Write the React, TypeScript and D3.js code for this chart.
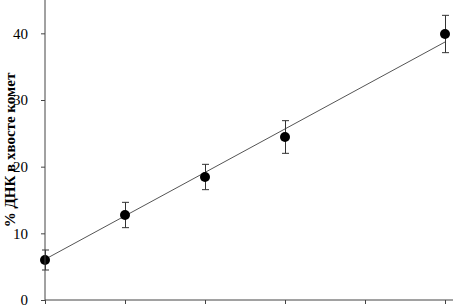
import { useEffect, useRef } from 'react'
import * as d3 from 'd3'

// doses (x) and measured values
const doses = [0, 1, 2, 3, 5]
const tailDna = [6.0, 12.75, 18.45, 24.45, 39.9]
const errors = [1.5, 1.9, 1.9, 2.45, 2.8]
// fitted line end points
const fitX = [0, 5]
const fitY = [6.1, 38.7]
const yTicks = [0, 10, 20, 30, 40]
const xTicks = [0, 1, 2, 3, 4, 5]
const yLabel = '% ДНК в хвосте комет'

const W = 453
const H = 306

const CometChart = () => {
  const ref = useRef<SVGSVGElement | null>(null)

  useEffect(() => {
    const svg = d3.select(ref.current)
    svg.selectAll('*').remove()

    const margin = { top: 0, right: 0, bottom: 6, left: 45 }
    const x = d3.scaleLinear().domain([0, 5.1]).range([margin.left, W - margin.right])
    const y = d3.scaleLinear().domain([0, 45]).range([H - margin.bottom, margin.top])
    const font = '"Liberation Serif", "Times New Roman", serif'

    // fitted line
    const line = d3
      .line<number>()
      .x((_, i) => x(fitX[i]))
      .y((d) => y(d))
    svg
      .append('path')
      .datum(fitY)
      .attr('fill', 'none')
      .attr('stroke', '#555')
      .attr('stroke-width', 1)
      .attr('d', line)

    // error bars
    const cap = 3.5
    const eb = svg.append('g').attr('stroke', '#333').attr('stroke-width', 1)
    doses.forEach((d, i) => {
      const cx = Math.round(x(d)) + 0.5
      const top = y(tailDna[i] + errors[i])
      const bot = y(tailDna[i] - errors[i])
      eb.append('line').attr('x1', cx).attr('x2', cx).attr('y1', top).attr('y2', bot)
      eb.append('line').attr('x1', cx - cap).attr('x2', cx + cap).attr('y1', top).attr('y2', top)
      eb.append('line').attr('x1', cx - cap).attr('x2', cx + cap).attr('y1', bot).attr('y2', bot)
    })

    // points
    svg
      .selectAll('.pt')
      .data(tailDna)
      .enter()
      .append('circle')
      .attr('class', 'pt')
      .attr('cx', (_, i) => x(doses[i]))
      .attr('cy', (d) => y(d))
      .attr('r', 5)
      .attr('fill', '#000')

    // axes
    const xAxis = d3.axisBottom(x).tickValues(xTicks).tickSize(4).tickFormat(() => '')
    const yAxis = d3.axisLeft(y).tickValues(yTicks).tickSize(4).tickPadding(13)

    const gx = svg
      .append('g')
      .attr('transform', `translate(0,${y(0)})`)
      .call(xAxis)
    gx.select('.domain').attr('d', `M${x(0)},0H${W}`)

    const gy = svg
      .append('g')
      .attr('transform', `translate(${x(0)},0)`)
      .call(yAxis)
    gy.select('.domain').attr('d', `M0,${y(0)}V0`)

    svg.selectAll('.domain').attr('stroke', '#444')
    svg.selectAll('.tick line').attr('stroke', '#444')
    gy.selectAll('.tick text')
      .attr('font-family', font)
      .attr('font-size', 15)
      .attr('fill', '#000')

    // y label
    svg
      .append('text')
      .attr('transform', `translate(15,${y(22.5)}) rotate(-90)`)
      .attr('text-anchor', 'middle')
      .attr('font-family', font)
      .attr('font-weight', 'bold')
      .attr('font-size', 15)
      .text(yLabel)
  }, [])

  return <svg ref={ref} width={W} height={H} style={{ display: 'block', background: '#fff' }} />
}

export default function App() {
  return (
    <div style={{ position: 'fixed', left: 0, top: 0 }}>
      <CometChart />
    </div>
  )
}
